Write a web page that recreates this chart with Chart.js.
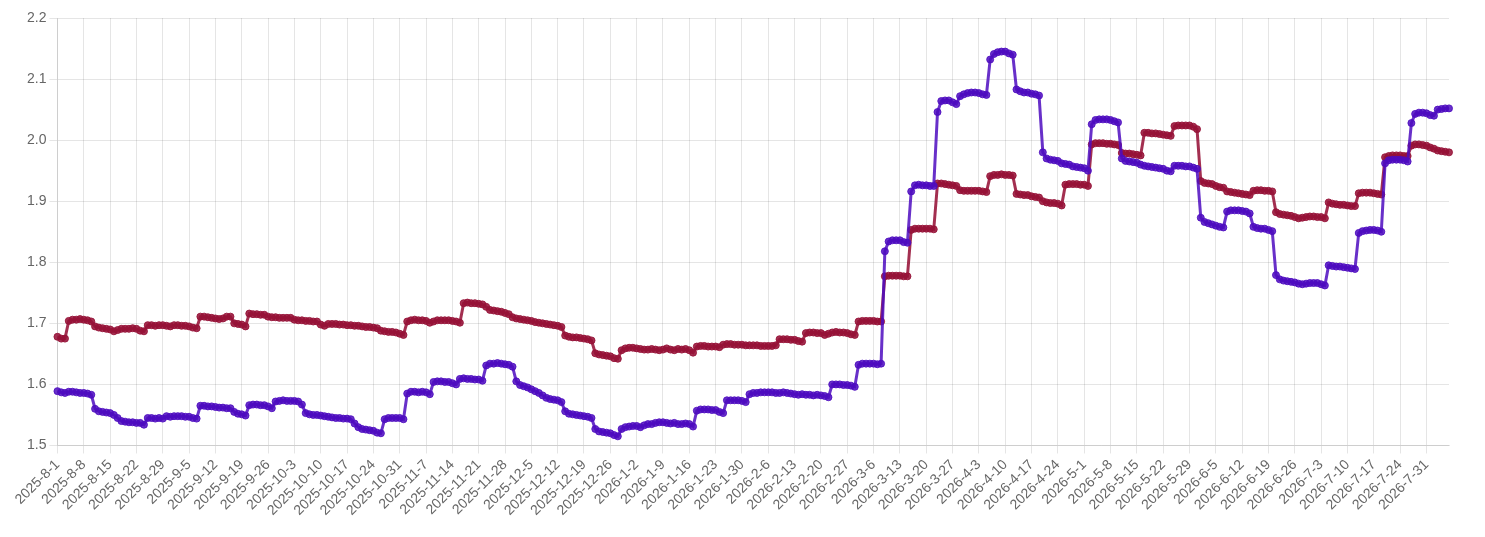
<!DOCTYPE html>
<html>
<head>
<meta charset="utf-8">
<title>Daily series</title>
<script src="https://cdn.jsdelivr.net/npm/chart.js@4.4.1/dist/chart.umd.min.js"></script>
<style>
    html, body { margin: 0; padding: 0; background: #fff; }
    #wrap { width: 1485px; height: 537px; }
</style>
</head>
<body>
<div id="wrap"><canvas id="lineChart"></canvas></div>
<script>
// Daily points from 2025-8-1, one row per week
const startYear = 2025, startMonth = 8, startDay = 1;

const purpleValues = [
    1.589,1.587,1.586,1.588,1.588,1.587,1.586,
    1.586,1.585,1.583,1.560,1.556,1.555,1.554,
    1.553,1.550,1.545,1.540,1.539,1.538,1.538,
    1.537,1.537,1.534,1.545,1.545,1.544,1.545,
    1.544,1.548,1.547,1.548,1.548,1.548,1.547,
    1.547,1.545,1.544,1.565,1.565,1.564,1.564,
    1.563,1.562,1.562,1.561,1.561,1.555,1.552,
    1.551,1.549,1.566,1.567,1.567,1.566,1.566,
    1.564,1.561,1.572,1.573,1.574,1.573,1.573,
    1.573,1.572,1.567,1.553,1.551,1.550,1.550,
    1.549,1.548,1.547,1.546,1.545,1.545,1.544,
    1.544,1.543,1.536,1.530,1.527,1.526,1.525,
    1.524,1.521,1.520,1.543,1.545,1.545,1.545,
    1.545,1.543,1.585,1.588,1.588,1.587,1.588,
    1.587,1.584,1.604,1.605,1.605,1.604,1.604,
    1.602,1.600,1.609,1.610,1.609,1.609,1.608,
    1.608,1.606,1.631,1.634,1.634,1.635,1.634,
    1.633,1.632,1.629,1.605,1.599,1.597,1.595,
    1.592,1.589,1.586,1.582,1.578,1.576,1.575,
    1.574,1.571,1.556,1.552,1.551,1.550,1.549,
    1.548,1.547,1.545,1.527,1.523,1.522,1.521,
    1.520,1.517,1.515,1.527,1.530,1.531,1.532,
    1.532,1.530,1.533,1.535,1.535,1.537,1.538,
    1.538,1.537,1.536,1.537,1.535,1.535,1.536,
    1.535,1.531,1.557,1.559,1.559,1.559,1.558,
    1.558,1.555,1.553,1.574,1.574,1.574,1.574,
    1.573,1.571,1.584,1.586,1.586,1.587,1.587,
    1.587,1.587,1.586,1.586,1.587,1.586,1.585,
    1.584,1.583,1.584,1.583,1.583,1.582,1.583,
    1.582,1.581,1.579,1.600,1.600,1.600,1.599,
    1.599,1.598,1.596,1.632,1.634,1.634,1.634,
    1.634,1.633,1.634,1.818,1.834,1.836,1.836,
    1.836,1.833,1.832,1.916,1.926,1.927,1.926,
    1.926,1.925,1.925,2.046,2.064,2.065,2.065,
    2.062,2.059,2.072,2.075,2.077,2.078,2.078,
    2.077,2.075,2.074,2.132,2.141,2.144,2.145,
    2.145,2.142,2.140,2.083,2.080,2.078,2.078,
    2.076,2.075,2.073,1.980,1.970,1.968,1.967,
    1.966,1.962,1.961,1.960,1.957,1.956,1.955,
    1.954,1.950,2.026,2.033,2.034,2.034,2.034,
    2.033,2.031,2.029,1.970,1.966,1.965,1.964,
    1.963,1.960,1.958,1.957,1.956,1.955,1.954,
    1.953,1.950,1.949,1.958,1.958,1.958,1.957,
    1.957,1.955,1.953,1.873,1.866,1.864,1.862,
    1.860,1.858,1.857,1.883,1.885,1.885,1.885,
    1.884,1.883,1.880,1.858,1.856,1.855,1.855,
    1.853,1.851,1.779,1.772,1.770,1.769,1.768,
    1.767,1.765,1.764,1.765,1.766,1.766,1.766,
    1.764,1.762,1.795,1.794,1.793,1.793,1.792,
    1.791,1.790,1.789,1.848,1.851,1.852,1.853,
    1.853,1.852,1.850,1.962,1.967,1.968,1.968,
    1.968,1.967,1.965,2.028,2.043,2.045,2.045,
    2.044,2.041,2.040,2.050,2.051,2.052,2.052
];

const redValues = [
    1.678,1.675,1.675,1.704,1.706,1.706,1.707,
    1.706,1.705,1.703,1.695,1.693,1.692,1.691,
    1.690,1.687,1.689,1.691,1.691,1.691,1.692,
    1.691,1.688,1.687,1.697,1.697,1.696,1.697,
    1.697,1.696,1.695,1.697,1.697,1.696,1.696,
    1.695,1.693,1.692,1.711,1.711,1.710,1.709,
    1.708,1.707,1.708,1.711,1.711,1.700,1.699,
    1.698,1.695,1.716,1.715,1.715,1.714,1.714,
    1.711,1.710,1.710,1.709,1.709,1.709,1.709,
    1.706,1.705,1.705,1.704,1.704,1.703,1.703,
    1.698,1.696,1.699,1.699,1.699,1.698,1.698,
    1.697,1.697,1.696,1.696,1.695,1.694,1.694,
    1.693,1.692,1.688,1.687,1.686,1.686,1.685,
    1.683,1.681,1.703,1.705,1.706,1.705,1.705,
    1.704,1.701,1.703,1.705,1.705,1.705,1.705,
    1.704,1.703,1.701,1.733,1.734,1.733,1.733,
    1.732,1.731,1.727,1.722,1.721,1.720,1.719,
    1.717,1.715,1.710,1.708,1.707,1.706,1.705,
    1.704,1.702,1.701,1.700,1.699,1.698,1.697,
    1.696,1.694,1.680,1.678,1.677,1.677,1.676,
    1.675,1.674,1.672,1.651,1.649,1.648,1.647,
    1.646,1.643,1.642,1.656,1.659,1.660,1.660,
    1.659,1.658,1.657,1.657,1.658,1.657,1.656,
    1.657,1.659,1.657,1.656,1.658,1.657,1.658,
    1.656,1.652,1.662,1.663,1.663,1.662,1.662,
    1.662,1.661,1.665,1.666,1.666,1.665,1.665,
    1.665,1.664,1.664,1.664,1.664,1.663,1.663,
    1.663,1.663,1.664,1.674,1.674,1.674,1.673,
    1.673,1.671,1.670,1.684,1.685,1.685,1.684,
    1.684,1.681,1.683,1.685,1.686,1.685,1.685,
    1.684,1.682,1.681,1.703,1.704,1.704,1.704,
    1.704,1.703,1.703,1.777,1.778,1.778,1.778,
    1.778,1.777,1.777,1.853,1.855,1.855,1.855,
    1.855,1.855,1.854,1.929,1.929,1.928,1.927,
    1.926,1.925,1.918,1.917,1.917,1.917,1.917,
    1.917,1.916,1.915,1.941,1.943,1.943,1.944,
    1.943,1.943,1.942,1.912,1.911,1.910,1.910,
    1.908,1.907,1.906,1.900,1.898,1.897,1.897,
    1.896,1.893,1.927,1.928,1.928,1.928,1.927,
    1.927,1.925,1.993,1.995,1.995,1.995,1.994,
    1.994,1.993,1.992,1.979,1.978,1.978,1.977,
    1.976,1.975,2.012,2.012,2.011,2.011,2.010,
    2.009,2.008,2.007,2.023,2.024,2.024,2.024,
    2.024,2.022,2.018,1.933,1.930,1.929,1.928,
    1.925,1.923,1.922,1.916,1.915,1.914,1.913,
    1.912,1.911,1.910,1.917,1.918,1.918,1.917,
    1.917,1.916,1.882,1.879,1.878,1.877,1.876,
    1.874,1.872,1.873,1.874,1.875,1.875,1.874,
    1.874,1.872,1.898,1.896,1.895,1.894,1.894,
    1.893,1.892,1.892,1.913,1.914,1.914,1.914,
    1.913,1.912,1.911,1.972,1.974,1.975,1.975,
    1.975,1.974,1.974,1.991,1.993,1.993,1.992,
    1.991,1.988,1.986,1.983,1.982,1.981,1.980
];

const yTicks = [1.5, 1.6, 1.7, 1.8, 1.9, 2.0, 2.1, 2.2];

// date labels, one per point, written like 2025-8-1
const dayLabels = purpleValues.map((_, i) => {
    const d = new Date(Date.UTC(startYear, startMonth - 1, startDay + i));
    return `${d.getUTCFullYear()}-${d.getUTCMonth() + 1}-${d.getUTCDate()}`;
});

const purple = 'rgba(78, 12, 192, 0.85)';
const red = 'rgba(150, 18, 56, 0.88)';

new Chart(document.getElementById('lineChart').getContext('2d'), {
    type: 'line',
    data: {
        labels: dayLabels,
        datasets: [
            {
                label: 'Purple',
                data: purpleValues,
                borderColor: purple,
                backgroundColor: purple,
                pointBackgroundColor: purple,
                pointBorderColor: purple,
                borderWidth: 3,
                pointRadius: 3.5,
                pointBorderWidth: 1,
                fill: false,
                tension: 0
            },
            {
                label: 'Red',
                data: redValues,
                borderColor: red,
                backgroundColor: red,
                pointBackgroundColor: red,
                pointBorderColor: red,
                borderWidth: 3,
                pointRadius: 3.5,
                pointBorderWidth: 1,
                fill: false,
                tension: 0
            }
        ]
    },
    options: {
        responsive: true,
        maintainAspectRatio: false,
        animation: false,
        layout: { padding: { top: 18, right: 36, left: 24, bottom: 15 } },
        plugins: {
            legend: { display: false },
            tooltip: { enabled: false }
        },
        scales: {
            x: {
                ticks: {
                    autoSkip: false,
                    maxRotation: 45,
                    minRotation: 45,
                    color: '#666',
                    font: { size: 14 },
                    callback: function (value, index) {
                        return index % 7 === 0 ? this.getLabelForValue(value) : null;
                    }
                }
            },
            y: {
                min: yTicks[0],
                max: yTicks[yTicks.length - 1],
                afterBuildTicks: axis => {
                    axis.ticks = yTicks.map(v => ({ value: v }));
                },
                ticks: {
                    color: '#666',
                    font: { size: 14 },
                    callback: value => value.toFixed(1)
                }
            }
        }
    }
});
</script>
</body>
</html>
